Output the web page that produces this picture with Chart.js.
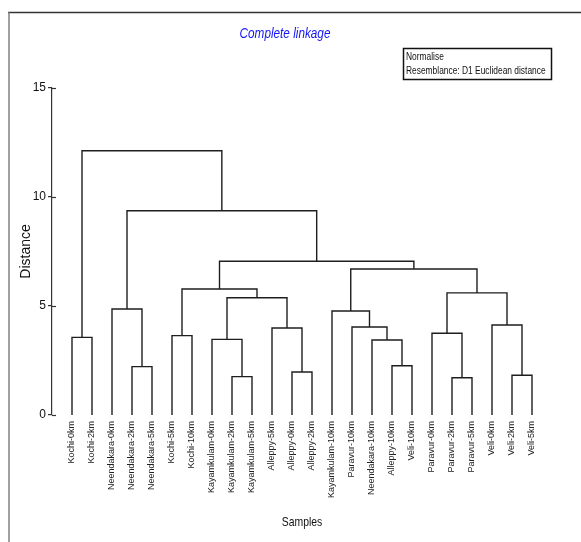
<!DOCTYPE html>
<html>
<head>
<meta charset="utf-8">
<script src="https://cdn.jsdelivr.net/npm/chart.js@4.4.1/dist/chart.umd.min.js"></script>
<style>
html,body{margin:0;padding:0;background:#fff;}
#wrap{width:581px;height:542px;position:relative;}
</style>
</head>
<body>
<div id="wrap"><canvas id="c" width="581" height="542"></canvas></div>
<script>
// Leaves in dendrogram order (left to right)
const leafLabels = [
  'Kochi-0km','Kochi-2km','Neendakara-0km','Neendakara-2km','Neendakara-5km',
  'Kochi-5km','Kochi-10km','Kayamkulam-0km','Kayamkulam-2km','Kayamkulam-5km',
  'Alleppy-5km','Alleppy-0km','Alleppy-2km','Kayamkulam-10km','Paravur-10km',
  'Neendakara-10km','Alleppy-10km','Veli-10km','Paravur-0km','Paravur-2km',
  'Paravur-5km','Veli-0km','Veli-2km','Veli-5km'
];
// Merges: node ids 0..23 are leaves, merge k creates node 24+k
const mergeLeft   = [19, 8, 22, 11, 3, 16, 15, 7, 0, 5, 18, 10, 14, 21, 13, 2, 31, 34, 33, 38, 42, 39, 32];
const mergeRight  = [20, 9, 23, 12, 4, 17, 29, 25, 1, 6, 24, 27, 30, 26, 36, 28, 35, 37, 40, 41, 43, 44, 45];
const mergeHeight = [1.71, 1.76, 1.82, 1.97, 2.22, 2.26, 3.44, 3.47, 3.56, 3.64, 3.75, 3.99, 4.04, 4.13,
                     4.77, 4.86, 5.38, 5.60, 5.78, 6.70, 7.05, 9.37, 12.12];
const yTickValues = [0, 5, 10, 15];
const chartTitle = 'Complete linkage';
const noteLines = ['Normalise', 'Resemblance: D1 Euclidean distance'];
const xTitle = 'Samples';
const yTitle = 'Distance';

const nLeaves = leafLabels.length;
const nodeX = leafLabels.map((_, i) => i);
const nodeH = leafLabels.map(() => 0);
const datasets = [];
mergeLeft.forEach((l, k) => {
  const r = mergeRight[k], h = mergeHeight[k];
  nodeX.push((nodeX[l] + nodeX[r]) / 2);
  nodeH.push(h);
  datasets.push({
    data: [{x: nodeX[l], y: nodeH[l]}, {x: nodeX[l], y: h}, {x: nodeX[r], y: h}, {x: nodeX[r], y: nodeH[r]}],
    showLine: true, borderColor: '#1e1e1e', borderWidth: 1.4, pointRadius: 0, tension: 0, fill: false
  });
});

const SANS = '"Liberation Sans",Arial,sans-serif';

// draw text horizontally condensed (like Arial Narrow)
function narrowText(ctx, text, x, y, factor) {
  const w = ctx.measureText(text).width;
  ctx.fillText(text, x, y, w * factor);
}

const framePlugin = {
  id: 'frame',
  afterDraw(chart) {
    const ctx = chart.ctx;
    const ca = chart.chartArea;
    ctx.save();
    ctx.strokeStyle = '#333';
    ctx.lineWidth = 1.6;
    ctx.beginPath(); ctx.moveTo(8, 12.5); ctx.lineTo(581, 12.5); ctx.stroke();
    ctx.strokeStyle = '#777';
    ctx.lineWidth = 1.4;
    ctx.beginPath(); ctx.moveTo(9, 12); ctx.lineTo(9, 542); ctx.stroke();
    // inner half of y ticks
    const ys = chart.scales.y;
    ctx.strokeStyle = '#333';
    ctx.lineWidth = 1.2;
    ys.ticks.forEach(t => {
      const p = Math.round(ys.getPixelForValue(t.value)) + 0.5;
      ctx.beginPath(); ctx.moveTo(ys.right, p); ctx.lineTo(ys.right + 4, p); ctx.stroke();
    });
    // chart title
    ctx.fillStyle = '#1414f5';
    ctx.font = 'italic 14px ' + SANS;
    ctx.textAlign = 'center';
    ctx.textBaseline = 'middle';
    narrowText(ctx, chartTitle, 285, 34, 0.84);
    // x axis title
    ctx.fillStyle = '#111';
    ctx.font = '13px ' + SANS;
    narrowText(ctx, xTitle, (ca.left + ca.right) / 2, 522, 0.8);
    // annotation box
    ctx.strokeStyle = '#111';
    ctx.lineWidth = 1.5;
    ctx.strokeRect(403.5, 48.5, 148, 31);
    ctx.fillStyle = '#111';
    ctx.font = '10px ' + SANS;
    ctx.textBaseline = 'alphabetic';
    ctx.textAlign = 'left';
    narrowText(ctx, noteLines[0], 406, 60, 0.84);
    narrowText(ctx, noteLines[1], 406, 74, 0.84);
    ctx.restore();
  }
};

new Chart(document.getElementById('c'), {
  type: 'scatter',
  data: {datasets},
  plugins: [framePlugin],
  options: {
    responsive: false,
    animation: false,
    devicePixelRatio: 1,
    layout: {padding: {left: 18, right: 29, top: 88, bottom: 0}},
    plugins: {
      legend: {display: false},
      tooltip: {enabled: false},
      title: {display: false}
    },
    scales: {
      x: {
        type: 'linear', min: -1, max: nLeaves,
        afterFit(s) { s.height = 127; },
        afterBuildTicks(s) { s.ticks = leafLabels.map((_, i) => ({value: i})); },
        grid: {display: false, drawTicks: false},
        border: {display: false},
        ticks: {
          autoSkip: false, minRotation: 90, maxRotation: 90, padding: 6,
          font: {family: SANS, size: 9}, color: '#222',
          callback: (v) => leafLabels[v] !== undefined ? leafLabels[v] : ''
        },
        title: {display: false}
      },
      y: {
        min: 0, max: 15,
        afterFit(s) { s.width = 34; },
        afterBuildTicks(s) { s.ticks = yTickValues.map(v => ({value: v})); },
        grid: {drawOnChartArea: false, tickLength: 4, color: '#333', lineWidth: 1.2},
        border: {display: true, color: '#333', width: 1.2},
        ticks: {padding: 2, font: {family: SANS, size: 12}, color: '#111'},
        title: {display: true, text: yTitle, color: '#111',
          font: {family: SANS, size: 14, lineHeight: 1.2}, padding: {top: 0, bottom: 0}}
      }
    }
  }
});
</script>
</body>
</html>
